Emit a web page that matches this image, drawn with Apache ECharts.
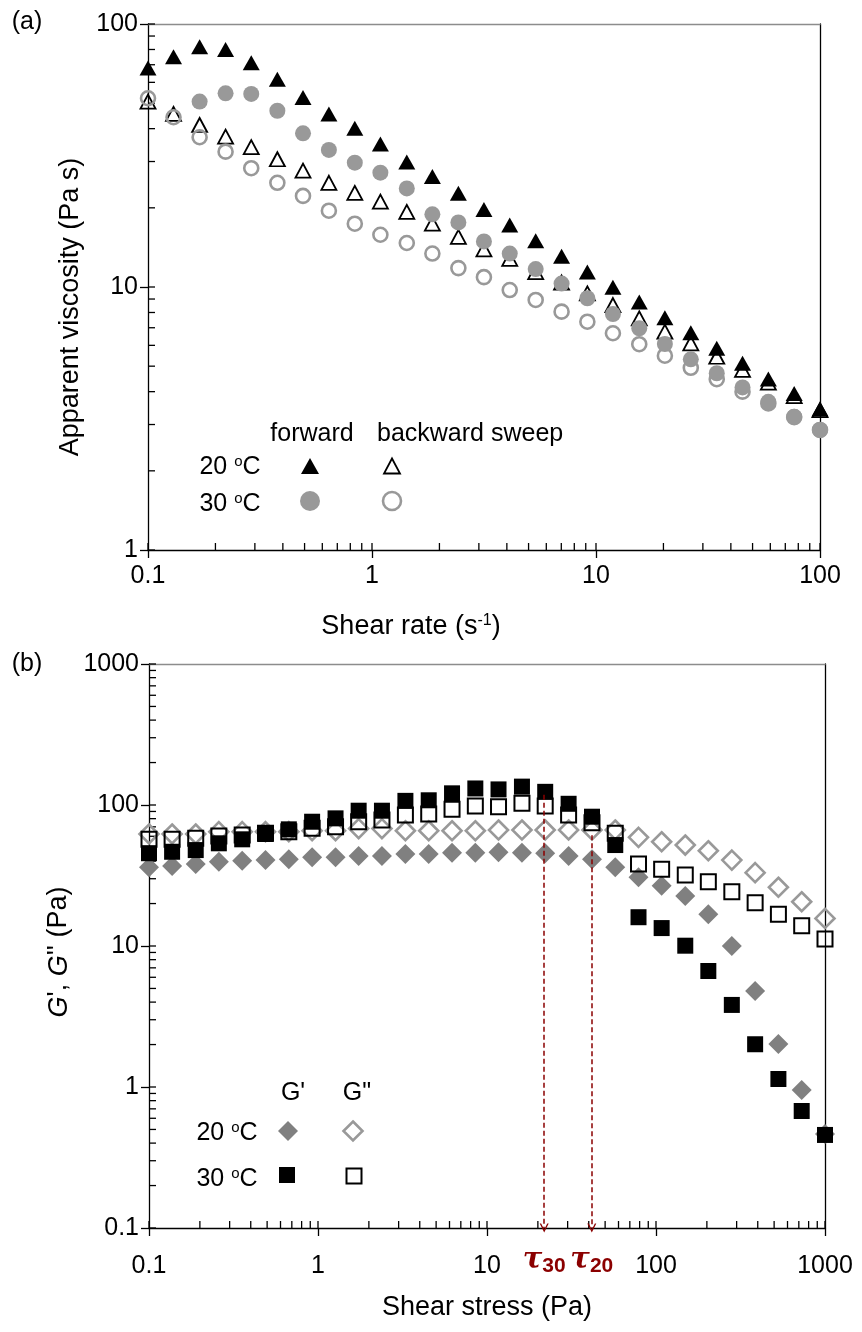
<!DOCTYPE html>
<html><head><meta charset="utf-8">
<script src="https://cdn.jsdelivr.net/npm/echarts@6/dist/echarts.min.js"></script>
<style>html,body{margin:0;padding:0;background:#fff}#c{width:862px;height:1332px}</style>
</head><body><div id="c"></div>
<script>
// ---------- Panel (a): apparent viscosity vs shear rate ----------
const shearRate = [0.1, 0.13, 0.17, 0.222, 0.289, 0.378, 0.492, 0.642, 0.838, 1.09, 1.43, 1.86, 2.43, 3.16, 4.12, 5.38, 7.02, 9.15, 11.9, 15.6, 20.3, 26.5, 34.6, 45.1, 58.8, 76.7, 100];
const visc20Fwd = [68, 75, 82, 80, 71.3, 61.6, 52.6, 45.5, 40.1, 35.0, 29.9, 26.3, 22.7, 19.7, 17.2, 15.0, 13.1, 11.4, 9.97, 8.77, 7.64, 6.70, 5.85, 5.13, 4.47, 3.94, 3.44];
const visc20Bwd = [50.7, 45.5, 41.3, 37.3, 34.0, 30.6, 27.7, 24.9, 22.8, 21.1, 19.3, 17.4, 15.5, 13.9, 12.8, 11.4, 10.4, 9.46, 8.54, 7.60, 6.76, 6.11, 5.43, 4.84, 4.33, 3.85, 3.4];
const visc30Fwd = [null, null, 50.7, 54.5, 54.2, 46.8, 38.4, 33.2, 29.7, 27.2, 23.7, 18.9, 17.6, 14.9, 13.4, 11.7, 10.3, 9.06, 7.89, 6.97, 6.07, 5.31, 4.70, 4.15, 3.66, 3.21, 2.86];
const visc30Bwd = [52.2, 44.2, 37.1, 32.7, 28.3, 24.9, 22.2, 19.5, 17.4, 15.8, 14.7, 13.4, 11.8, 10.9, 9.74, 8.93, 8.06, 7.38, 6.67, 6.06, 5.48, 4.93, 4.46, 4.00, 3.61, 3.2, 2.86];

// ---------- Panel (b): moduli vs shear stress ----------
const shearStress = [0.1, 0.137, 0.189, 0.259, 0.356, 0.489, 0.672, 0.923, 1.27, 1.74, 2.39, 3.29, 4.52, 6.21, 8.53, 11.7, 16.1, 22.1, 30.4, 41.8, 57.4, 78.8, 108, 149, 204, 281, 386, 530, 728, 1000];
const gPrime20 = [36.2, 36.9, 38.2, 39.6, 40.3, 40.7, 41.2, 42.6, 42.6, 43.5, 43.5, 44.9, 44.9, 45.9, 45.9, 46.2, 45.9, 45.4, 43.5, 41.2, 36.2, 30.7, 26.7, 22.6, 16.8, 10.0, 4.80, 2.02, 0.952, 0.464];
const gDouble20 = [62.3, 62.3, 62.3, 64.7, 64.7, 64.7, 64.7, 65.7, 65.7, 68, 68, 65.7, 65.7, 65.7, 65.7, 66.5, 66.5, 66.5, 66.5, 66.5, 66.5, 59.0, 54.9, 52.0, 47.4, 40.7, 33.1, 26.1, 20.6, 15.7];
const gPrime30 = [45.5, 46.6, 47.9, 53.5, 57.1, 62.3, 67.2, 76.1, 80.4, 91.1, 91.1, 107, 108, 121, 131, 129, 135, 124, 102, 82.6, 52.0, 16.0, 13.4, 10.05, 6.65, 3.82, 2.01, 1.14, 0.676, 0.457];
const gDouble30 = [57.1, 57.1, 58.1, 60.3, 61.3, 63.0, 64.7, 68.4, 70.2, 76.1, 78.3, 84.9, 86.3, 93.2, 98.4, 97.3, 103, 98.4, 84.9, 74.9, 63.0, 38.2, 35.0, 31.9, 28.6, 24.3, 20.3, 16.8, 13.9, 11.2];

// yield stresses marked with arrows
const tauNames = ['30', '20'];
const tauValues = [21.8, 41.7];
const tauTops = [118, 61];

// tick multipliers for log axes
const tickMult = [1, 2, 3, 4, 5, 6, 7, 8, 9];

const FONT = "'Liberation Sans', Arial, sans-serif";
const FS = 25;
const TFS = 27;
const pair = (xs, ys) => xs.map((x, i) => [x, ys[i]]).filter(p => p[1] != null);
function logTicks(lo, hi) {
  const out = [];
  for (let d = lo; d < hi * 0.999; d *= 10) for (const m of tickMult) out.push(+(d * m).toPrecision(3));
  out.push(hi);
  return out;
}
const fmt = v => String(+(+v).toPrecision(6));

const chart = echarts.init(document.getElementById('c'), null, {renderer: 'canvas'});

const grids = [
  {left: 148, top: 24, width: 672, height: 526},
  {left: 149, top: 664, width: 676, height: 564}
];
const ranges = [
  {x: [0.1, 100], y: [1, 100]},
  {x: [0.1, 1000], y: [0.1, 1000]}
];

function mainX(g, name, margin, gap, pad) {
  return {
    type: 'log', logBase: 10, gridIndex: g, position: 'bottom',
    min: ranges[g].x[0], max: ranges[g].x[1],
    axisLine: {show: true, lineStyle: {color: '#000', width: 1.3}},
    axisTick: {show: true, inside: false, length: 8, lineStyle: {color: '#000', width: 1.3}},
    minorTick: {show: false},
    splitLine: {show: false},
    axisLabel: {color: '#000', fontSize: FS, fontFamily: FONT, margin: margin, formatter: fmt},
    name: name, nameLocation: 'middle', nameGap: gap,
    nameTextStyle: {color: '#000', fontSize: TFS, fontFamily: FONT, padding: pad,
      rich: {n: {fontSize: TFS, fontFamily: FONT, color: '#000'},
             sup: {fontSize: 16, fontFamily: FONT, color: '#000', verticalAlign: 'top', padding: [0, 0, 10, 0]}}}
  };
}
function mainY(g, name, gap, pad) {
  return {
    type: 'log', logBase: 10, gridIndex: g, position: 'left',
    min: ranges[g].y[0], max: ranges[g].y[1],
    axisLine: {show: true, lineStyle: {color: '#000', width: 1.3}},
    axisTick: {show: true, inside: false, length: 8, lineStyle: {color: '#000', width: 1.3}},
    minorTick: {show: false},
    splitLine: {show: false},
    axisLabel: {color: '#000', fontSize: FS, fontFamily: FONT, margin: 10, formatter: fmt},
    name: name, nameLocation: 'middle', nameGap: gap, nameRotate: 90,
    nameTextStyle: {color: '#000', fontSize: TFS, fontFamily: FONT, padding: pad,
      rich: {n: {fontSize: TFS, fontFamily: FONT, color: '#000'},
             i: {fontSize: TFS, fontFamily: FONT, color: '#000', fontStyle: 'italic'}}}
  };
}
function borderAxis(kind, g, pos, color) {
  return {
    type: 'log', logBase: 10, gridIndex: g, position: pos,
    min: ranges[g][kind][0], max: ranges[g][kind][1],
    axisLine: {show: true, lineStyle: {color: color, width: 1.3}},
    axisTick: {show: false}, axisLabel: {show: false}, splitLine: {show: false}
  };
}

const xAxes = [
  mainX(0, '{n|Shear rate (s}{sup|-1}{n|)}', 14, 63, [0, 146, 0, 0]),
  borderAxis('x', 0, 'top', '#8c8c8c'),
  mainX(1, 'Shear stress (Pa)', 26, 66, 0),
  borderAxis('x', 1, 'top', '#8c8c8c')
];
const yAxes = [
  mainY(0, 'Apparent viscosity (Pa s)', 64, [0, 40, 0, 0]),
  borderAxis('y', 0, 'right', '#000'),
  mainY(1, "{i|G}{n|', }{i|G}{n|'' (Pa)}", 64, [0, 12, 0, 0]),
  borderAxis('y', 1, 'right', '#000')
];

function tickSeries(g) {
  const xi = g * 2, yi = g * 2;
  const xt = logTicks(ranges[g].x[0], ranges[g].x[1]);
  const yt = logTicks(ranges[g].y[0], ranges[g].y[1]);
  return [
    {type: 'scatter', xAxisIndex: xi, yAxisIndex: yi, silent: true, z: 1,
     symbol: 'rect', symbolSize: [1.3, 7], symbolOffset: [0, -3.5],
     itemStyle: {color: '#000', opacity: 1}, data: xt.map(v => [v, ranges[g].y[0]])},
    {type: 'scatter', xAxisIndex: xi, yAxisIndex: yi, silent: true, z: 1,
     symbol: 'rect', symbolSize: [7, 1.3], symbolOffset: [3.5, 0],
     itemStyle: {color: '#000', opacity: 1}, data: yt.map(v => [ranges[g].x[0], v])}
  ];
}

const CLEAR = 'rgba(255,255,255,0)';
const series = [
  ...tickSeries(0), ...tickSeries(1),
  // panel a
  {name: 'bwd20', type: 'scatter', xAxisIndex: 0, yAxisIndex: 0, symbol: 'triangle', symbolSize: [15, 14],
   itemStyle: {color: CLEAR, borderColor: '#000', borderWidth: 1.8, opacity: 1}, data: pair(shearRate, visc20Bwd)},
  {name: 'bwd30', type: 'scatter', xAxisIndex: 0, yAxisIndex: 0, symbol: 'circle', symbolSize: 14,
   itemStyle: {color: CLEAR, borderColor: '#999', borderWidth: 2.6, opacity: 1}, data: pair(shearRate, visc30Bwd)},
  {name: 'fwd30', type: 'scatter', xAxisIndex: 0, yAxisIndex: 0, symbol: 'circle', symbolSize: 16,
   itemStyle: {color: '#999', opacity: 1}, data: pair(shearRate, visc30Fwd)},
  {name: 'fwd20', type: 'scatter', xAxisIndex: 0, yAxisIndex: 0, symbol: 'triangle', symbolSize: [17, 15],
   itemStyle: {color: '#000', opacity: 1}, data: pair(shearRate, visc20Fwd)},
  // panel b
  {name: 'gpp20', type: 'scatter', xAxisIndex: 2, yAxisIndex: 2, symbol: 'diamond', symbolSize: [19, 19],
   itemStyle: {color: CLEAR, borderColor: '#999', borderWidth: 2.6, opacity: 1}, data: pair(shearStress, gDouble20)},
  {name: 'gp20', type: 'scatter', xAxisIndex: 2, yAxisIndex: 2, symbol: 'diamond', symbolSize: [20, 20],
   itemStyle: {color: '#808080', opacity: 1}, data: pair(shearStress, gPrime20)},
  {name: 'gpp30', type: 'scatter', xAxisIndex: 2, yAxisIndex: 2, symbol: 'rect', symbolSize: [15, 15],
   itemStyle: {color: CLEAR, borderColor: '#000', borderWidth: 2, opacity: 1}, data: pair(shearStress, gDouble30),
   markLine: {
     silent: true, animation: false,
     symbol: ['none', 'path://M0,10L5,0L10,10L8.4,10L5,3.2L1.6,10Z'], symbolSize: [9, 9],
     lineStyle: {color: '#8b0000', type: [5, 3], width: 1.5},
     label: {show: true, position: 'end', distance: 16, formatter: p => '{t|τ}{s|' + p.name + '}',
       rich: {t: {fontFamily: "'DejaVu Serif', serif", fontStyle: 'italic', fontWeight: 'bold', fontSize: 29, color: '#8b0000'},
              s: {fontFamily: FONT, fontWeight: 'bold', fontSize: 21, color: '#8b0000', verticalAlign: 'bottom', padding: [12, 0, 0, 0]}}},
     data: tauValues.map((v, i) => [{name: tauNames[i], coord: [v, tauTops[i]]}, {coord: [v, ranges[1].y[0]]}])
   }},
  {name: 'gp30', type: 'scatter', xAxisIndex: 2, yAxisIndex: 2, symbol: 'rect', symbolSize: [16, 16],
   itemStyle: {color: '#000', opacity: 1}, data: pair(shearStress, gPrime30)}
];
series.forEach(s => { s.animation = false; });

// legend blocks (layout only)
const txt = (x, y, text, extra) => ({type: 'text', x: x, y: y, z: 100,
  style: Object.assign({text: text, fontSize: FS, fontFamily: FONT, fill: '#000', align: 'center', verticalAlign: 'middle',
    rich: {n: {fontSize: FS, fontFamily: FONT, fill: '#000'}, sup: {fontSize: 15, fontFamily: FONT, fill: '#000', verticalAlign: 'top', padding: [0, 0, 8, 0]}}}, extra || {})});
const tri = (cx, cy, w, h, fill, stroke, lw) => ({type: 'polygon', z: 100,
  shape: {points: [[cx, cy - h / 2], [cx + w / 2, cy + h / 2], [cx - w / 2, cy + h / 2]]},
  style: {fill: fill, stroke: stroke, lineWidth: lw}});
const circ = (cx, cy, r, fill, stroke, lw) => ({type: 'circle', z: 100, shape: {cx: cx, cy: cy, r: r}, style: {fill: fill, stroke: stroke, lineWidth: lw}});
const dia = (cx, cy, r, fill, stroke, lw) => ({type: 'polygon', z: 100,
  shape: {points: [[cx, cy - r], [cx + r, cy], [cx, cy + r], [cx - r, cy]]}, style: {fill: fill, stroke: stroke, lineWidth: lw}});
const sq = (cx, cy, s, fill, stroke, lw) => ({type: 'rect', z: 100, shape: {x: cx - s / 2, y: cy - s / 2, width: s, height: s}, style: {fill: fill, stroke: stroke, lineWidth: lw}});

const graphic = [
  txt(27, 22, '(a)'),
  txt(27, 664, '(b)'),
  txt(312, 434, 'forward'),
  txt(377, 434, 'backward sweep', {align: 'left'}),
  txt(230, 467, '{n|20 }{sup|o}{n|C}'),
  txt(230, 504, '{n|30 }{sup|o}{n|C}'),
  tri(310, 466, 18, 16, '#000', null, 0),
  tri(392, 466, 16, 15, 'none', '#000', 1.8),
  circ(310, 501, 10, '#999', null, 0),
  circ(392, 501, 9, 'none', '#999', 2.6),
  txt(293, 1093, "G'"),
  txt(357, 1093, 'G"'),
  txt(227, 1133, '{n|20 }{sup|o}{n|C}'),
  txt(227, 1179, '{n|30 }{sup|o}{n|C}'),
  dia(288, 1131, 10, '#808080', null, 0),
  dia(353, 1131, 9.5, 'none', '#999', 2.6),
  sq(287, 1175, 16, '#000', null, 0),
  sq(354, 1176, 15, 'none', '#000', 2)
];

chart.setOption({
  animation: false,
  backgroundColor: '#fff',
  grid: grids,
  xAxis: xAxes,
  yAxis: yAxes,
  series: series,
  graphic: graphic
});
</script></body></html>
